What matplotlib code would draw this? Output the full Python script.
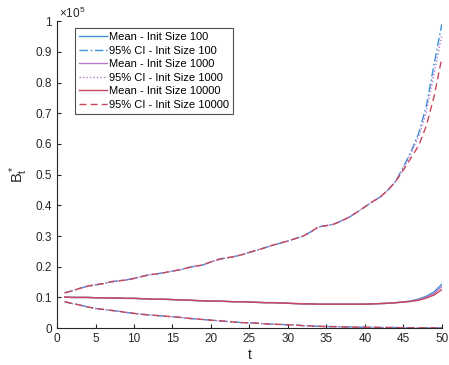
import numpy as np
import matplotlib

matplotlib.use('Agg')
import matplotlib.pyplot as plt

plt.rcParams['font.family'] = ['Liberation Sans', 'DejaVu Sans']
plt.rcParams['mathtext.fontset'] = 'custom'
plt.rcParams['mathtext.rm'] = 'Liberation Sans'
plt.rcParams['mathtext.it'] = 'Liberation Sans'

# time steps
t = np.arange(1, 51)

# shared part of the curves (t = 1..44), in units of 1e5
mean_head = [0.101, 0.100, 0.100, 0.100, 0.099, 0.099, 0.098, 0.098, 0.097, 0.097,
             0.096, 0.095, 0.094, 0.094, 0.093, 0.092, 0.091, 0.090, 0.089, 0.088,
             0.088, 0.087, 0.086, 0.086, 0.085, 0.084, 0.083, 0.083, 0.082, 0.081,
             0.080, 0.079, 0.079, 0.078, 0.078, 0.078, 0.078, 0.078, 0.078, 0.078,
             0.079, 0.080, 0.081, 0.083]
upper_head = [0.115, 0.122, 0.130, 0.137, 0.141, 0.145, 0.151, 0.154, 0.157, 0.162,
              0.168, 0.174, 0.177, 0.181, 0.186, 0.190, 0.197, 0.202, 0.206, 0.216,
              0.224, 0.229, 0.233, 0.239, 0.247, 0.254, 0.262, 0.270, 0.277, 0.284,
              0.292, 0.300, 0.314, 0.330, 0.334, 0.339, 0.350, 0.362, 0.378, 0.395,
              0.412, 0.427, 0.450, 0.478]
lower_ci = [0.086, 0.080, 0.075, 0.069, 0.064, 0.061, 0.058, 0.055, 0.051, 0.048,
            0.045, 0.043, 0.041, 0.039, 0.037, 0.035, 0.032, 0.030, 0.028, 0.026,
            0.024, 0.022, 0.020, 0.018, 0.017, 0.016, 0.014, 0.013, 0.012, 0.011,
            0.010, 0.008, 0.007, 0.006, 0.005, 0.005, 0.004, 0.004, 0.003, 0.003,
            0.003, 0.002, 0.002, 0.002, 0.001, 0.001, 0.001, 0.001, 0.001, 0.001]

# tails (t = 45..50) per initial size
mean_tail_100 = [0.085, 0.089, 0.095, 0.104, 0.118, 0.143]
mean_tail_1000 = [0.085, 0.088, 0.093, 0.101, 0.113, 0.135]
mean_tail_10000 = [0.085, 0.087, 0.091, 0.098, 0.108, 0.125]
upper_tail_100 = [0.525, 0.575, 0.635, 0.725, 0.860, 0.990]
upper_tail_1000 = [0.520, 0.570, 0.625, 0.705, 0.830, 0.955]
upper_tail_10000 = [0.515, 0.555, 0.595, 0.660, 0.755, 0.880]

sizes = ['100', '1000', '10000']
colors = ['#3d8fd8', '#b57cc8', '#c8475a']
ci_styles = [(0, (6, 2, 1.2, 2)), (0, (1, 1.5)), (0, (5, 3))]
mean_tails = [mean_tail_100, mean_tail_1000, mean_tail_10000]
upper_tails = [upper_tail_100, upper_tail_1000, upper_tail_10000]

scale = 1e5

fig = plt.figure(figsize=(4.49, 3.65), dpi=100)
ax = fig.add_axes([0.127, 0.101, 0.857, 0.841])

for size, col, ls, mt, ut in zip(sizes, colors, ci_styles, mean_tails, upper_tails):
    mean = np.array(mean_head + mt) * scale
    upper = np.array(upper_head + ut) * scale
    lower = np.array(lower_ci) * scale
    ax.plot(t, mean, color=col, lw=1.0, label='Mean - Init Size ' + size)
    ax.plot(t, upper, color=col, lw=1.0, linestyle=ls, label='95% CI - Init Size ' + size)
    ax.plot(t, lower, color=col, lw=1.0, linestyle=ls)

ax.set_xlim(0, 50)
ax.set_ylim(0, scale)
ax.set_xticks(np.arange(0, 51, 5))
yt = np.arange(0, 11) / 10
ax.set_yticks(yt * scale)
ax.set_yticklabels(['%g' % v for v in yt])

for s in ['top', 'right']:
    ax.spines[s].set_visible(False)
for s in ['left', 'bottom']:
    ax.spines[s].set_color('#262626')
    ax.spines[s].set_linewidth(0.8)
ax.tick_params(direction='in', length=3, labelsize=8.5, colors='#262626', width=0.8)

ax.text(0.005, 1.0, r'$\times10^{5}$', transform=ax.transAxes, fontsize=8.5,
        color='#262626', ha='left', va='bottom')
ax.set_xlabel('t', fontsize=10, color='#262626', labelpad=2)
ax.set_ylabel(r'B$^*_t$', fontsize=10.5, color='#262626', labelpad=4)

leg = ax.legend(loc='upper left', bbox_to_anchor=(0.047, 0.977), fontsize=8,
                frameon=True, fancybox=False, handlelength=2.5, borderpad=0.35,
                labelspacing=0.32, handletextpad=0.2, borderaxespad=0)
leg.get_frame().set_edgecolor('#262626')
leg.get_frame().set_linewidth(0.8)

plt.savefig('out.png', dpi=100)
plt.close()
